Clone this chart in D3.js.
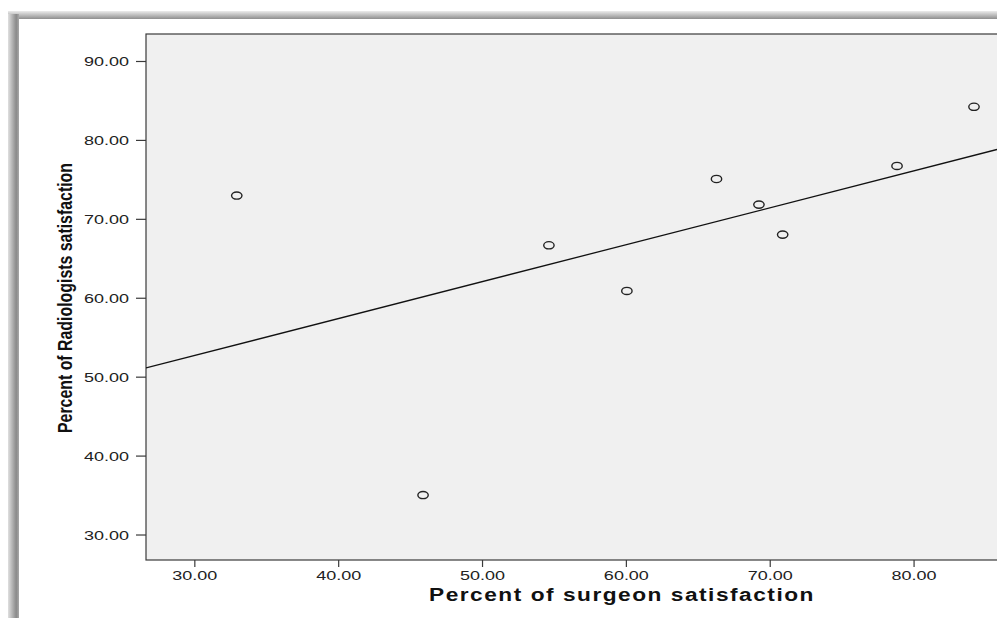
<!DOCTYPE html>
<html>
<head>
<meta charset="utf-8">
<script src="https://cdn.jsdelivr.net/npm/d3@7"></script>
<style>
  html, body { margin: 0; padding: 0; background: #fff; }
  svg { display: block; }
</style>
</head>
<body>
<svg id="chart" width="997" height="618"></svg>
<script>
// surgeon satisfaction (x) vs radiologists satisfaction (y)
var surgeonPct = [32.95, 45.9, 54.65, 60.07, 66.3, 69.25, 70.9, 78.85, 84.2];
var radiologistPct = [72.95, 35.0, 66.65, 60.86, 75.05, 71.8, 68.0, 76.7, 84.2];
var xTicks = [30, 40, 50, 60, 70, 80];
var yTicks = [30, 40, 50, 60, 70, 80, 90];
var xTitle = "Percent of surgeon satisfaction";
var yTitle = "Percent of Radiologists satisfaction";

var svg = d3.select("#chart");
var defs = svg.append("defs");

// SHADOWED FRAME AROUND THE PANEL
var gTop = defs.append("linearGradient").attr("id", "shTop")
  .attr("x1", 0).attr("y1", 0).attr("x2", 0).attr("y2", 1);
gTop.append("stop").attr("offset", "0%").attr("stop-color", "#ececec");
gTop.append("stop").attr("offset", "100%").attr("stop-color", "#8f8f8f");
var gLeft = defs.append("linearGradient").attr("id", "shLeft")
  .attr("x1", 0).attr("y1", 0).attr("x2", 1).attr("y2", 0);
gLeft.append("stop").attr("offset", "0%").attr("stop-color", "#e0e0e0");
gLeft.append("stop").attr("offset", "75%").attr("stop-color", "#8a8a8a");
gLeft.append("stop").attr("offset", "100%").attr("stop-color", "#a8a8a8");

svg.append("rect").attr("x", 8).attr("y", 11).attr("width", 989).attr("height", 8)
  .attr("fill", "url(#shTop)");
svg.append("rect").attr("x", 8).attr("y", 14).attr("width", 11).attr("height", 604)
  .attr("fill", "url(#shLeft)");
svg.append("rect").attr("x", 19).attr("y", 19).attr("width", 978).attr("height", 599)
  .attr("fill", "#ffffff");

// PLOT AREA
var plot = { left: 146, top: 34, right: 997, bottom: 560 };

var x = d3.scaleLinear().domain([26.64, 85.8]).range([plot.left, plot.right]);
var y = d3.scaleLinear().domain([26.77, 93.42]).range([plot.bottom, plot.top]);

defs.append("clipPath").attr("id", "clipPlot").append("rect")
  .attr("x", plot.left).attr("y", plot.top)
  .attr("width", plot.right - plot.left).attr("height", plot.bottom - plot.top);

svg.append("rect")
  .attr("x", plot.left).attr("y", plot.top)
  .attr("width", plot.right - plot.left + 5).attr("height", plot.bottom - plot.top)
  .attr("fill", "#f0f0f0")
  .attr("stroke", "#3a3a3a").attr("stroke-width", 1.2);

// AXES
var tickFont = "'Liberation Sans', Arial, sans-serif";

var xAxis = svg.append("g").attr("transform", "translate(0," + plot.bottom + ")")
  .call(d3.axisBottom(x).tickValues(xTicks).tickSize(7).tickSizeOuter(0)
    .tickFormat(d3.format(".2f")));
xAxis.select(".domain").remove();
xAxis.selectAll(".tick line").attr("stroke", "#3a3a3a").attr("stroke-width", 1.2);
xAxis.selectAll(".tick text")
  .attr("y", 20).attr("dy", 0)
  .attr("font-family", tickFont).attr("font-size", 12.5).attr("fill", "#222")
  .attr("textLength", 45).attr("lengthAdjust", "spacingAndGlyphs");

var yAxis = svg.append("g").attr("transform", "translate(" + plot.left + ",0)")
  .call(d3.axisLeft(y).tickValues(yTicks).tickSize(10).tickSizeOuter(0)
    .tickFormat(d3.format(".2f")));
yAxis.select(".domain").remove();
yAxis.selectAll(".tick line").attr("stroke", "#3a3a3a").attr("stroke-width", 1.2);
yAxis.selectAll(".tick text")
  .attr("x", -17).attr("dy", "0.36em")
  .attr("font-family", tickFont).attr("font-size", 12.5).attr("fill", "#222")
  .attr("textLength", 45).attr("lengthAdjust", "spacingAndGlyphs");

// FIT LINE (least squares from the points)
var mx = d3.mean(surgeonPct), my = d3.mean(radiologistPct);
var sxy = d3.sum(surgeonPct, function(v, i) { return (v - mx) * (radiologistPct[i] - my); });
var sxx = d3.sum(surgeonPct, function(v) { return (v - mx) * (v - mx); });
var slope = sxy / sxx;
var icpt = my - slope * mx;
var xd = x.domain();

svg.append("line")
  .attr("clip-path", "url(#clipPlot)")
  .attr("x1", x(xd[0])).attr("y1", y(icpt + slope * xd[0]))
  .attr("x2", x(xd[1])).attr("y2", y(icpt + slope * xd[1]))
  .attr("stroke", "#111").attr("stroke-width", 1.3);

// POINTS
svg.append("g").selectAll("ellipse")
  .data(surgeonPct)
  .enter().append("ellipse")
  .attr("cx", function(d) { return x(d); })
  .attr("cy", function(d, i) { return y(radiologistPct[i]); })
  .attr("rx", 5.2).attr("ry", 3.6)
  .attr("fill", "none").attr("stroke", "#222").attr("stroke-width", 1.4);

// TITLES
svg.append("text")
  .attr("x", 622).attr("y", 601)
  .attr("text-anchor", "middle")
  .attr("font-family", "'Liberation Sans', Arial, sans-serif")
  .attr("font-weight", "bold").attr("font-size", 18).attr("fill", "#111")
  .attr("letter-spacing", 1.2)
  .attr("textLength", 386).attr("lengthAdjust", "spacingAndGlyphs")
  .text(xTitle);

svg.append("text")
  .attr("transform", "translate(72,298) rotate(-90)")
  .attr("text-anchor", "middle")
  .attr("font-family", "'Liberation Sans Narrow', 'Liberation Sans', Arial, sans-serif")
  .attr("font-weight", "bold").attr("font-size", 20).attr("fill", "#111")
  .attr("textLength", 270).attr("lengthAdjust", "spacingAndGlyphs")
  .text(yTitle);
</script>
</body>
</html>
